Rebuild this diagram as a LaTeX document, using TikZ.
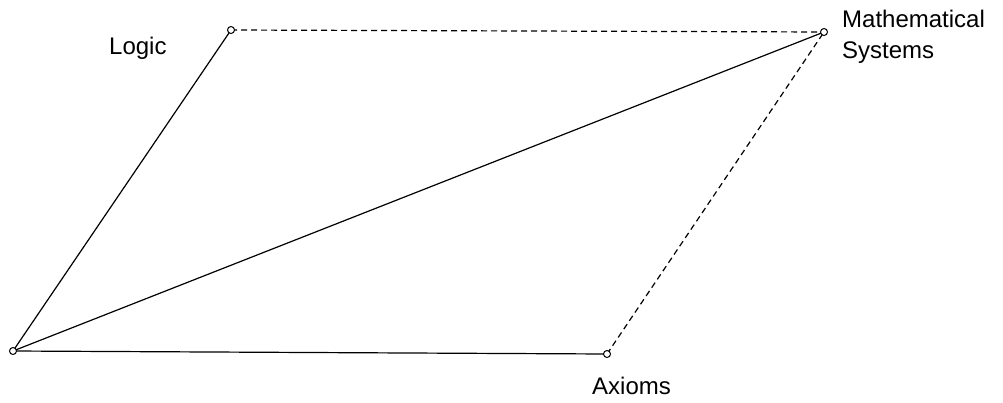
\documentclass[tikz,border=0pt]{standalone}
\usepackage{fontspec}
\setmainfont{Liberation Sans}
\begin{document}
\begin{tikzpicture}[x=1pt,y=-1pt,
  pt/.style={circle,draw,fill=white,inner sep=0pt,minimum size=7pt,line width=1pt},
  lbl/.style={inner sep=0pt,font=\fontsize{24}{31}\selectfont,align=left},
  edge/.style={line width=1.2pt},
  dedge/.style={line width=1.2pt,dash pattern=on 6pt off 4pt}]
\useasboundingbox (0,0) rectangle (1003,402);
\coordinate (lc) at (231,30);
\coordinate (mc) at (824,32);
\coordinate (oc) at (13,351);
\coordinate (ac) at (607,354);
\draw[edge] (oc) -- (lc);
\draw[edge] (oc) -- (mc);
\draw[edge] (oc) -- (ac);
\draw[dedge] (lc) -- (mc);
\draw[dedge] (ac) -- (mc);
\node[pt] (L) at (lc) {};
\node[pt] (M) at (mc) {};
\node[pt] (O) at (oc) {};
\node[pt] (A) at (ac) {};
\node[lbl,anchor=west] (tl) at (109,48) {Logic};
\node[lbl,anchor=west] (tm) at (842,37) {Mathematical\\Systems};
\node[lbl,anchor=west] (ta) at (592,386) {Axioms};
\end{tikzpicture}
\end{document}
